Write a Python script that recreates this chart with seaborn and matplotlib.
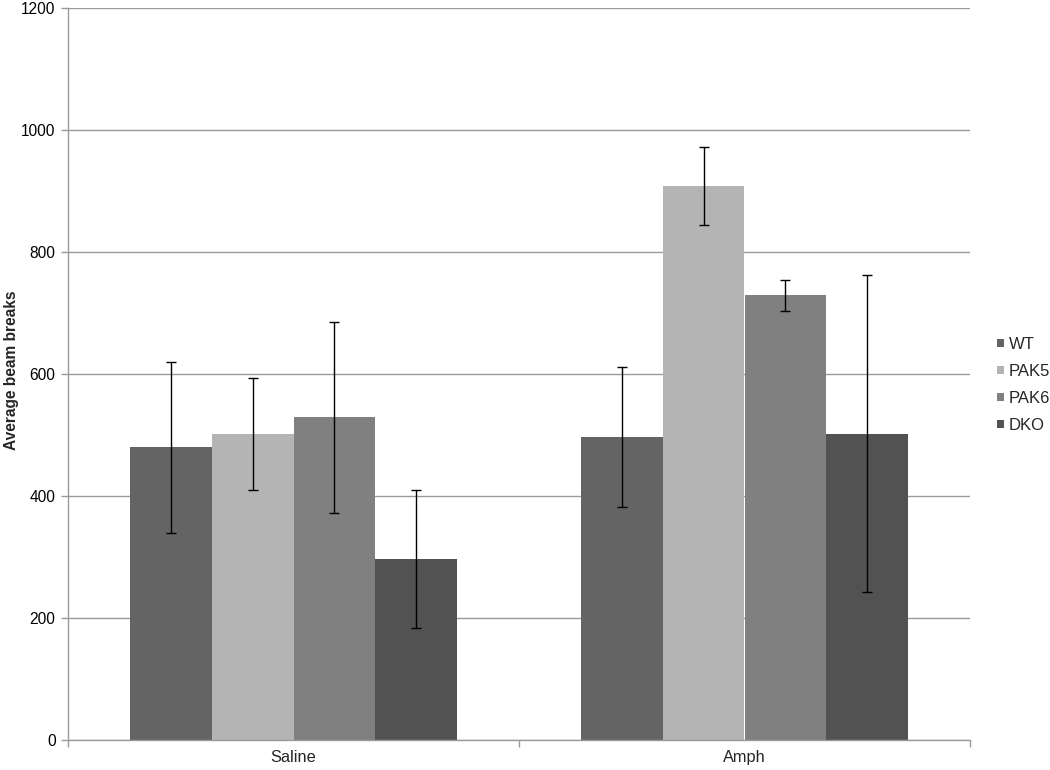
import matplotlib
matplotlib.use("Agg")
import matplotlib.pyplot as plt
import seaborn as sns
import pandas as pd
import numpy as np

treatments = ["Saline", "Amph"]
genotypes = ["WT", "PAK5", "PAK6", "DKO"]
saline_means = [480, 502, 529, 297]
saline_err = [140, 92, 157, 113]
amph_means = [497, 908, 729, 502]
amph_err = [115, 64, 25, 260]
colors = ["#646464", "#b4b4b4", "#808080", "#525252"]

rows = []
for t, means, errs in [("Saline", saline_means, saline_err), ("Amph", amph_means, amph_err)]:
    for g, m, e in zip(genotypes, means, errs):
        rows.append({"Treatment": t, "Genotype": g, "Mean": m, "Err": e})
df = pd.DataFrame(rows)

sns.set_theme(style="white")
plt.rcParams["font.family"] = ["Liberation Sans", "DejaVu Sans"]

fig = plt.figure(figsize=(10.5, 7.7), dpi=100)
ax = fig.add_axes([68 / 1050, 30 / 770, 902 / 1050, 732 / 770])

sns.barplot(data=df, x="Treatment", y="Mean", hue="Genotype", order=treatments,
            hue_order=genotypes, palette=colors, width=0.727, errorbar=None,
            saturation=1, linewidth=0, ax=ax)

# error bars positioned at the seaborn bar centres
for container, g in zip(ax.containers, genotypes):
    sub = df[df["Genotype"] == g].set_index("Treatment").loc[treatments]
    xs = [p.get_x() + p.get_width() / 2 for p in container.patches]
    ax.errorbar(xs, sub["Mean"].values, yerr=sub["Err"].values, fmt="none",
                ecolor="black", elinewidth=1, capsize=3.5, capthick=1, zorder=5)

ax.set_ylim(0, 1200)
ax.set_xlim(-0.5, 1.5)
ax.set_yticks(np.arange(0, 1201, 200))
ax.yaxis.grid(True, color="#9a9a9a", linewidth=1)
ax.set_axisbelow(True)
for s in ["top", "right"]:
    ax.spines[s].set_visible(False)
for s in ["left", "bottom"]:
    ax.spines[s].set_color("#9a9a9a")
    ax.spines[s].set_linewidth(1)

ax.tick_params(axis="y", which="major", length=5, width=1, color="#9a9a9a",
               labelsize=11.2, pad=4, left=True, labelcolor="black")
ax.tick_params(axis="x", which="major", length=0, labelsize=11.8, pad=7)
ax.set_xticks([-0.5, 0.5, 1.5], minor=True)
ax.tick_params(axis="x", which="minor", length=5, width=1, color="#9a9a9a", bottom=True)

ax.set_xlabel("")
ax.set_ylabel("Average beam breaks", fontsize=11.2, fontweight="bold")
ax.yaxis.set_label_coords(-(68 - 19) / 902, 0.505)

handles, labels = ax.get_legend_handles_labels()
ax.legend(handles, labels, loc="center left", bbox_to_anchor=(997 / 1050, 1 - 385 / 770),
          bbox_transform=fig.transFigure, frameon=False, fontsize=12, borderpad=0,
          borderaxespad=0, handlelength=0.42, handleheight=0.42, handletextpad=0.3,
          labelspacing=0.72)

fig.savefig("out.png", dpi=100)
